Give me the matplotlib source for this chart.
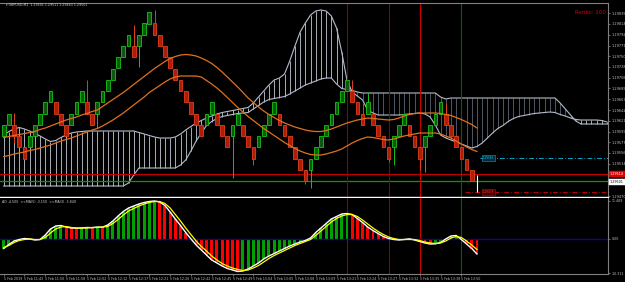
import numpy as np
import matplotlib
matplotlib.use('Agg')
import matplotlib.pyplot as plt

# Renko GBPUSD, M1 chart with Ichimoku cloud, two MAs and an AO-like window
box = 0.000225
base = 1.29500

# renko bricks: low of each brick in box units (up brick if higher than previous)
brick_level = [4, 5, 4, 3, 2, 3, 4, 5, 6, 7,
               6, 5, 4, 5, 6, 7, 6, 5, 6, 7,
               8, 9, 10, 11, 12, 11, 12, 13, 14, 13,
               12, 11, 10, 9, 8, 7, 6, 5, 4, 5,
               6, 5, 4, 3, 4, 5, 4, 3, 2, 3,
               4, 5, 6, 5, 4, 3, 2, 1, 0, 1,
               2, 3, 4, 5, 6, 7, 8, 7, 6, 5,
               6, 5, 4, 3, 2, 3, 4, 5, 4, 3,
               2, 3, 4, 5, 6, 5, 4, 3, 2, 1,
               0]
# shadows (low, high) of some bricks
wicks = {2: (1.29576, 1.29636), 16: (1.29640, 1.29702), 18: (1.29606, 1.29650),
         25: (1.29750, 1.29812), 26: (1.29728, 1.29780), 29: (1.29800, 1.29842),
         44: (1.29506, 1.29600), 48: (1.29532, 1.29550), 58: (1.29494, 1.29510),
         59: (1.29486, 1.29530), 67: (1.29660, 1.29702), 69: (1.29620, 1.29656),
         70: (1.29640, 1.29676), 74: (1.29538, 1.29550), 75: (1.29532, 1.29570),
         80: (1.29522, 1.29550), 81: (1.29518, 1.29570), 85: (1.29620, 1.29656)}
current_bar = (1.29478, 1.29512)

ma_upper = [1.29587, 1.29589, 1.29591, 1.29593, 1.29595, 1.29597, 1.29599, 1.29603, 1.29606, 1.29610,
            1.29614, 1.29618, 1.29622, 1.29625, 1.29628, 1.29632, 1.29635, 1.29639, 1.29642, 1.29649,
            1.29656, 1.29663, 1.29670, 1.29677, 1.29685, 1.29693, 1.29701, 1.29709, 1.29717, 1.29725,
            1.29732, 1.29739, 1.29745, 1.29749, 1.29752, 1.29753, 1.29752, 1.29750, 1.29746, 1.29741,
            1.29735, 1.29727, 1.29718, 1.29708, 1.29698, 1.29688, 1.29677, 1.29666, 1.29657, 1.29648,
            1.29640, 1.29633, 1.29627, 1.29621, 1.29616, 1.29612, 1.29608, 1.29605, 1.29602, 1.29600,
            1.29599, 1.29599, 1.29601, 1.29604, 1.29608, 1.29612, 1.29616, 1.29619, 1.29622, 1.29624,
            1.29626, 1.29625, 1.29624, 1.29623, 1.29622, 1.29623, 1.29626, 1.29630, 1.29633, 1.29635,
            1.29636, 1.29636, 1.29636, 1.29636, 1.29635, 1.29633, 1.29631, 1.29627, 1.29623, 1.29618,
            1.29613, 1.29606]
ma_lower = [1.29549, 1.29551, 1.29554, 1.29556, 1.29558, 1.29561, 1.29563, 1.29566, 1.29569, 1.29572,
            1.29576, 1.29580, 1.29583, 1.29586, 1.29590, 1.29594, 1.29598, 1.29602, 1.29605, 1.29610,
            1.29616, 1.29622, 1.29629, 1.29636, 1.29644, 1.29652, 1.29660, 1.29668, 1.29677, 1.29684,
            1.29691, 1.29698, 1.29704, 1.29708, 1.29710, 1.29710, 1.29710, 1.29710, 1.29708, 1.29701,
            1.29694, 1.29686, 1.29677, 1.29667, 1.29657, 1.29647, 1.29638, 1.29629, 1.29621, 1.29613,
            1.29605, 1.29598, 1.29591, 1.29584, 1.29577, 1.29571, 1.29565, 1.29560, 1.29556, 1.29553,
            1.29552, 1.29552, 1.29554, 1.29557, 1.29560, 1.29564, 1.29570, 1.29576, 1.29581, 1.29585,
            1.29588, 1.29587, 1.29585, 1.29583, 1.29582, 1.29584, 1.29587, 1.29590, 1.29592, 1.29594,
            1.29596, 1.29596, 1.29596, 1.29596, 1.29594, 1.29590, 1.29586, 1.29580, 1.29574, 1.29568,
            1.29563, 1.29559]

span_a = ([1.29592, 1.29599, 1.29604, 1.29607, 1.29604, 1.29600, 1.29595, 1.29590, 1.29584, 1.29579,
           1.29581, 1.29587, 1.29592, 1.29596, 1.29598, 1.29599] + [1.29600] * 10 +
          [1.29597, 1.29594, 1.29591, 1.29588] + [1.29586] * 3 +
          [1.29588, 1.29594, 1.29602, 1.29609, 1.29616, 1.29621, 1.29626,
           1.29630, 1.29634, 1.29637, 1.29639, 1.29641, 1.29643, 1.29645, 1.29647, 1.29656, 1.29668,
           1.29680, 1.29692, 1.29702, 1.29706, 1.29714, 1.29740, 1.29770, 1.29798, 1.29816, 1.29832,
           1.29840, 1.29842, 1.29840, 1.29830, 1.29806, 1.29758, 1.29702, 1.29678, 1.29670, 1.29662,
           1.29642, 1.29636] + [1.29632] * 5 +
          [1.29633, 1.29634, 1.29635, 1.29636, 1.29634, 1.29628, 1.29612,
           1.29592, 1.29586, 1.29582, 1.29578, 1.29574, 1.29570, 1.29566, 1.29569, 1.29576, 1.29586,
           1.29596, 1.29605, 1.29611, 1.29619, 1.29625, 1.29629, 1.29631, 1.29633, 1.29635, 1.29636,
           1.29637, 1.29638, 1.29637, 1.29633, 1.29630, 1.29626, 1.29623] + [1.29622] * 4 +
          [1.29621, 1.29618])
span_b = ([1.29490] * 24 + [1.29496, 1.29512] + [1.29526] * 8 +
          [1.29532, 1.29542, 1.29560, 1.29580, 1.29596, 1.29611, 1.29619, 1.29625, 1.29629, 1.29631,
           1.29633, 1.29635, 1.29636, 1.29637,
           1.29644, 1.29651, 1.29658, 1.29663, 1.29665, 1.29667, 1.29669, 1.29674, 1.29680, 1.29686,
           1.29692, 1.29696, 1.29700, 1.29704, 1.29706, 1.29706,
           1.29694, 1.29685, 1.29683, 1.29681, 1.29678] + [1.29676] * 15 +
          [1.29668, 1.29664] + [1.29666] * 21 +
          [1.29656, 1.29644, 1.29632, 1.29620] + [1.29614] * 6)

ao_hist = [-2.85, -1.65, -0.60, -0.15, 0.15, 0.00, -0.30, -0.15, 1.20, 3.00,
           3.90, 4.05, 3.60, 3.30, 3.25, 3.30, 3.45, 3.40, 3.60, 3.55,
           4.20, 5.40, 6.90, 8.25, 9.30, 9.90, 10.50, 10.95, 11.25, 11.40,
           11.10, 10.05, 8.10, 6.00, 4.05, 1.95, 0.05, -1.80, -3.30, -4.80,
           -6.30, -7.20, -8.10, -8.85, -9.30, -9.75, -9.60, -9.00, -8.10, -7.20,
           -6.00, -5.10, -4.35, -3.60, -2.85, -2.10, -1.50, -0.90, -0.45, 0.30,
           1.95, 3.30, 4.65, 6.00, 6.75, 7.50, 7.65, 7.35, 6.15, 4.95,
           3.60, 2.55, 1.65, 0.75, 0.15, -0.15, -0.30, -0.15, 0.05, -0.30,
           -0.75, -1.20, -1.50, -1.45, -1.05, 0.00, 0.90, 1.05, -0.15, -1.50,
           -2.85, -4.50]
ao_signal = [-2.55, -1.95, -1.05, -0.45, -0.15, 0.00, -0.15, -0.15, 0.45, 1.80,
             3.00, 3.60, 3.75, 3.45, 3.30, 3.30, 3.30, 3.45, 3.45, 3.60,
             3.75, 4.65, 5.85, 7.20, 8.40, 9.15, 9.90, 10.50, 10.95, 11.25,
             11.25, 10.65, 9.30, 7.35, 5.40, 3.30, 1.35, -0.60, -2.25, -3.60,
             -5.10, -6.30, -7.35, -8.10, -8.70, -9.15, -9.45, -9.30, -8.70, -7.95,
             -6.90, -5.85, -4.95, -4.20, -3.45, -2.70, -1.95, -1.35, -0.75, -0.15,
             1.05, 2.40, 3.75, 5.10, 6.15, 6.90, 7.35, 7.35, 6.75, 5.70,
             4.50, 3.30, 2.25, 1.35, 0.60, 0.15, -0.15, -0.15, -0.15, -0.15,
             -0.45, -0.90, -1.20, -1.35, -1.20, -0.60, 0.30, 0.75, 0.45, -0.60,
             -1.80, -3.15]

time_labels = ["5 Feb 2019", "5 Feb 11:43", "5 Feb 11:50", "5 Feb 11:58", "5 Feb 12:02",
               "5 Feb 12:12", "5 Feb 12:17", "5 Feb 12:21", "5 Feb 12:26", "5 Feb 12:42",
               "5 Feb 12:45", "5 Feb 12:49", "5 Feb 13:04", "5 Feb 13:05", "5 Feb 13:08",
               "5 Feb 13:09", "5 Feb 13:21", "5 Feb 13:24", "5 Feb 13:27", "5 Feb 13:32",
               "5 Feb 13:35", "5 Feb 13:38", "5 Feb 13:50"]

event_bars = [66, 74, 80, 88]
event_colors = ['#8b0000', '#8b0000', '#c80000', '#006400']
red_level = 1.29514
green_level = 1.29501
cyan_order = 1.29546
red_order = 1.29478

fig = plt.figure(figsize=(6.25, 2.82), dpi=100, facecolor='black')
ax = fig.add_axes([0, 85 / 282, 608 / 625, 194 / 282], facecolor='black')
ax2 = fig.add_axes([0, 8 / 282, 608 / 625, 76.5 / 282], facecolor='black')
xmin, xmax = -0.71, 116.2

# ichimoku cloud
ci = np.arange(len(span_a))
sa, sb = np.array(span_a), np.array(span_b)
hatch = np.where(sa >= sb, '#c4c9d6', '#5c6474')
ax.vlines(ci, sa, sb, colors=hatch, lw=0.6, zorder=1)
ax.plot(ci, sa, color='#b4bccc', lw=0.8, zorder=2)
ax.plot(ci, sb, color='#b4bccc', lw=0.8, zorder=2)

# horizontal levels
ax.axhline(red_level, color='#c00000', lw=0.9, zorder=2)
ax.axhline(green_level, color='#00a000', lw=0.9, zorder=2)
ax.hlines(cyan_order, 91.5, xmax, colors='#00a8c8', linestyles=(0, (5, 2, 1, 2)), lw=0.7)
ax.hlines(red_order, 88.7, xmax, colors='#c00000', linestyles=(0, (5, 2, 1, 2)), lw=0.7)
ax.text(93.2, cyan_order, f'{cyan_order:.5f}', fontsize=2.0, color='#00c8e8', ha='center',
        va='center', zorder=9, bbox=dict(boxstyle='square,pad=0.2', fc='#002838', ec='#00a8c8', lw=0.4))
ax.text(93.2, red_order, f'{red_order:.5f}', fontsize=2.0, color='#ff3030', ha='center',
        va='center', zorder=9, bbox=dict(boxstyle='square,pad=0.2', fc='#500000', ec='#d00000', lw=0.4))

for pos, col in zip(event_bars, event_colors):
    ax.axvline(pos, color=col, lw=0.8, zorder=2)
    ax2.axvline(pos, color=col, lw=0.8, zorder=2)

# bricks
idx = np.arange(len(brick_level))
lows = base + np.array(brick_level) * box
up = np.r_[True, np.diff(brick_level) > 0]
fill = np.where(up, '#0b5a0b', '#b01c08')
edge = np.where(up, '#18c418', '#e0401c')
for i, (lo, hi) in wicks.items():
    ax.vlines(i, lo, hi, color=edge[i], lw=0.7, zorder=3)
ax.bar(idx, box, bottom=lows, width=0.7, color=fill, edgecolor=edge, linewidth=0.6, zorder=4)
ax.vlines(len(brick_level), *current_bar, color='white', lw=0.8, zorder=4)

mi = np.arange(len(ma_upper))
ax.plot(mi, ma_upper, color='#e07020', lw=0.9, zorder=5)
ax.plot(mi, ma_lower, color='#e07020', lw=0.9, zorder=5)

ax.set_xlim(xmin, xmax)
ax.set_ylim(1.29468, 1.29856)
yt = 1.29470 + 0.000215 * np.arange(18)
# price tags cover the scale labels next to them
yt = [v for v in yt if min(abs(v - red_level), abs(v - green_level)) > 0.00016]
ax.set_yticks(yt)
ax.set_yticklabels([f'{v:.5f}' for v in yt])
ax.yaxis.tick_right()
ax.set_xticks([])
ax.tick_params(axis='y', labelsize=2.5, colors='#c0c0c0', length=1.5, width=0.4, pad=1)
ax.spines['left'].set_visible(False)
ax.spines['top'].set_color('#808080')
ax.spines['right'].set_color('#808080')
ax.spines['bottom'].set_color('white')
ax.spines['bottom'].set_linewidth(1.0)

tr = ax.get_yaxis_transform()
ax.text(1.003, red_level, f'{red_level:.5f}', transform=tr, fontsize=2.4, color='white',
        va='center', ha='left', zorder=10, clip_on=False,
        bbox=dict(boxstyle='square,pad=0.25', fc='#e00000', ec='#e00000', lw=0.3))
ax.text(1.003, green_level - 0.00003, f'{green_level:.5f}', transform=tr, fontsize=2.4,
        color='black', va='center', ha='left', zorder=10, clip_on=False,
        bbox=dict(boxstyle='square,pad=0.25', fc='white', ec='white', lw=0.3))

fig.text(6 / 625, 1 - 2.5 / 282, '\u25be GBPUSD,M1  1.29501 1.29511 1.29463 1.29501',
         fontsize=2.3, color='#d0d0d0', va='top', ha='left')
ax.text(0.997, 0.965, 'Renko: 200', transform=ax.transAxes, fontsize=4.0, color='#d00000',
        ha='right', va='top')

# oscillator window
hi = np.array(ao_hist)
hcol = np.where(np.r_[True, np.diff(hi) >= 0], '#00a000', '#ff0000')
ai = np.arange(len(ao_hist))
ax2.bar(ai, hi, width=0.55, color=hcol, zorder=3)
ax2.axhline(0, color='#0000d0', lw=0.9, zorder=4)
ax2.plot(ai, ao_hist, color='white', lw=1.0, zorder=5)
ax2.plot(ai, ao_signal, color='#ffff00', lw=0.9, zorder=6)
ax2.set_xlim(xmin, xmax)
ax2.set_ylim(-10.5, 12.45)
ax2.set_yticks([-10.3, 0, 11.489])
ax2.set_yticklabels(['-10.313', '0.00', '11.489'])
ax2.yaxis.tick_right()
ax2.set_xticks(np.arange(len(time_labels)) * 4)
ax2.set_xticklabels(time_labels, ha='left')
ax2.tick_params(axis='both', labelsize=2.3, colors='#c0c0c0', length=1.5, width=0.4, pad=1)
ax2.spines['left'].set_visible(False)
ax2.spines['top'].set_visible(False)
ax2.spines['right'].set_color('#808080')
ax2.spines['bottom'].set_color('#808080')
ax2.text(0.004, 0.97, 'AO -4.500  <<MA(5) -3.150  <<MA(3) -3.849', transform=ax2.transAxes,
         fontsize=2.3, color='#d0d0d0', ha='left', va='top')

fig.savefig('out.png', dpi=100, facecolor='black')
